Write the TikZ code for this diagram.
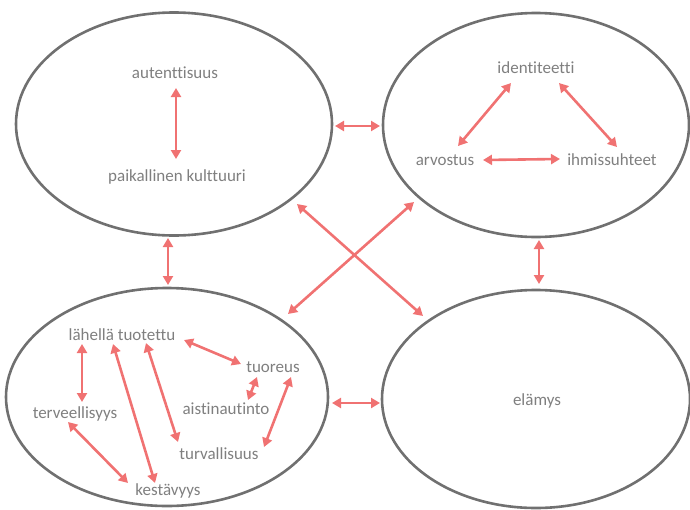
\documentclass[tikz,border=0pt]{standalone}
\usepackage{fontspec}
\setmainfont[Ligatures=NoCommon]{Carlito}
\usetikzlibrary{arrows.meta,shapes.geometric}
\definecolor{txtgray}{HTML}{7F7F7F}
\definecolor{ringgray}{HTML}{707070}
\definecolor{arrred}{HTML}{F07272}
\tikzset{
  ell/.style={ellipse, draw=ringgray, line width=2.6pt, inner sep=0pt, outer sep=0pt},
  lbl/.style={text=txtgray, font=\fontsize{17}{20}\selectfont, inner sep=1pt},
  arr/.style={draw=arrred, line width=2.6pt, {Triangle[length=9pt,width=10pt]}-{Triangle[length=9pt,width=10pt]}}
}
\begin{document}
\begin{tikzpicture}[x=1pt,y=-1pt]
\useasboundingbox (0,0) rectangle (690,509);
% ellipses
\node[ell, minimum width=316pt, minimum height=223pt] (TL) at (174,124) {};
\node[ell, minimum width=306pt, minimum height=224pt] (TR) at (536,125) {};
\node[ell, minimum width=322pt, minimum height=218pt] (BL) at (167,397) {};
\node[ell, minimum width=308pt, minimum height=218pt] (BR) at (536,399) {};
% labels
\node[lbl] (aut) at (175,73) {autenttisuus};
\node[lbl] (paik) at (177,177) {paikallinen kulttuuri};
\node[lbl] (ident) at (536,68) {identiteetti};
\node[lbl] (arv) at (445,160) {arvostus};
\node[lbl] (ihm) at (612,160) {ihmissuhteet};
\node[lbl] (elam) at (537,401) {elämys};
\node[lbl] (lah) at (122,335) {lähellä tuotettu};
\node[lbl] (tuor) at (273,367) {tuoreus};
\node[lbl] (aist) at (226,409) {aistinautinto};
\node[lbl] (terv) at (75,414) {terveellisyys};
\node[lbl] (turv) at (219,454) {turvallisuus};
\node[lbl] (kest) at (168,491) {kestävyys};
% connector end points
\coordinate (a1) at (176,88);  \coordinate (b1) at (176,159);
\coordinate (a2) at (511,83);  \coordinate (b2) at (458,146);
\coordinate (a3) at (559,83);  \coordinate (b3) at (617,147);
\coordinate (a4) at (483,160); \coordinate (b4) at (560,159);
\coordinate (a5) at (335,126); \coordinate (b5) at (380,126);
\coordinate (a6) at (332,403); \coordinate (b6) at (380,403);
\coordinate (a7) at (168,238); \coordinate (b7) at (168,285);
\coordinate (a8) at (539,240); \coordinate (b8) at (539,284);
\coordinate (a9) at (297,204); \coordinate (b9) at (423,316);
\coordinate (a10) at (288,314); \coordinate (b10) at (414,202);
\coordinate (a11) at (82,344); \coordinate (b11) at (82,402);
\coordinate (a12) at (113,344); \coordinate (b12) at (155,483);
\coordinate (a13) at (146,343); \coordinate (b13) at (178,442);
\coordinate (a14) at (184,340); \coordinate (b14) at (241,364);
\coordinate (a15) at (257,377); \coordinate (b15) at (248,400);
\coordinate (a16) at (291,377); \coordinate (b16) at (264,447);
\coordinate (a17) at (68,422);  \coordinate (b17) at (128,483);
\foreach \i in {1,...,17} { \draw[arr] (a\i) -- (b\i); }
\end{tikzpicture}
\end{document}
